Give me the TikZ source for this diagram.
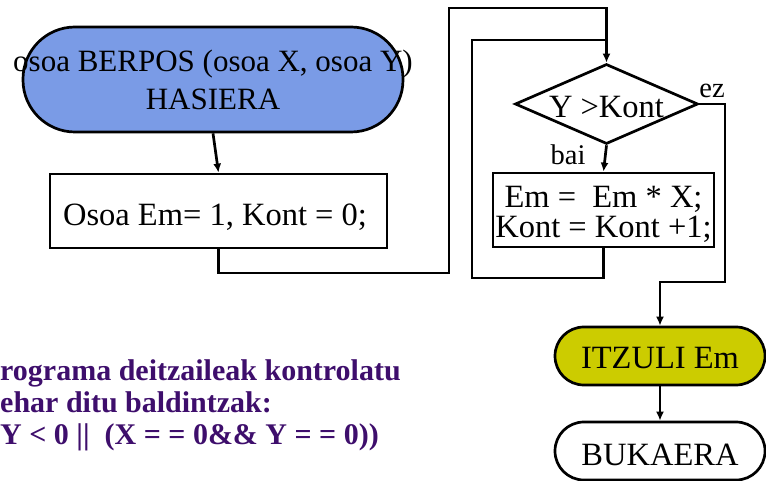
\documentclass[tikz,border=0pt]{standalone}
\usepackage{fontspec}
\setmainfont{Liberation Serif}
\usetikzlibrary{arrows.meta,shapes.geometric}
\definecolor{startblue}{RGB}{122,155,230}
\definecolor{retyellow}{RGB}{204,204,0}
\definecolor{notepurple}{RGB}{62,14,108}
\begin{document}
\begin{tikzpicture}[x=1pt,y=-1pt,
  every node/.style={inner sep=0pt, font=\fontsize{32.5}{30}\selectfont},
  line/.style={line width=2.7pt, line join=miter},
  flow/.style={line, -{Latex[length=9pt,width=8pt]}},
  terminal/.style={draw, line width=2.7pt, rectangle, rounded corners=#1},
  procbox/.style={draw, line width=2.7pt, rectangle},
  decision/.style={draw, line width=2.7pt, diamond},
  lbl/.style={font=\fontsize{28.5}{28}\selectfont}]
\useasboundingbox (0,0) rectangle (766,481);

% start terminal
\node[terminal=52pt, fill=startblue, minimum width=380pt, minimum height=105pt,
      align=center, font=\fontsize{31}{38}\selectfont] (start) at (213,79.5)
  {\makebox[0pt][c]{osoa BERPOS (osoa X, osoa Y)}\\HASIERA};

% initialisation
\node[procbox, minimum width=337pt, minimum height=74pt] (init) at (218.5,211) {};
\node (inittxt) at (215,217) {Osoa Em= 1, Kont = 0;};

% loop test
\node[decision, minimum width=183pt, minimum height=80pt] (dec) at (606.5,104) {};
\node (dectxt) at (606.5,107) {Y >Kont};

% loop body
\node[procbox, minimum width=221pt, minimum height=74pt] (body) at (603.5,210) {};
\node[align=center] (bodytxt) at (603.5,214) {Em =\ \ Em * X;\\Kont = Kont +1;};

% return and end
\node[terminal=28.9pt, fill=retyellow, minimum width=210pt, minimum height=58pt] (ret) at (660,356) {};
\node (rettxt) at (660,358) {ITZULI Em};
\node[terminal=28.9pt, fill=white, minimum width=210pt, minimum height=58pt] (stop) at (660,451) {};
\node (stoptxt) at (660,455) {BUKAERA};

% branch labels
\node[lbl] (ez) at (712,91) {ez};
\node[lbl] (bai) at (568,155) {bai};

% routing points
\coordinate (o1) at (449,273);
\coordinate (o2) at (449,8);
\coordinate (l1) at (472,278);
\coordinate (j) at (606.5,40);
\coordinate (r1) at (725,282);

% connectors
\draw[flow] (start.south) -- (init.north);
\draw[flow] (init.south) |- (o1) -- (o2) -| (dec.north);
\draw[line] (body.south) |- (l1) |- (j);
\draw[flow] (dec.south) -- (body.north);
\draw[flow] (dec.east) -| (r1) -| (ret.north);
\draw[flow] (ret.south) -- (stop.north);

% note on the caller's checks
\node[anchor=west, align=left, text=notepurple,
      font=\fontsize{30}{32}\selectfont\bfseries] (note) at (0,405)
  {rograma deitzaileak kontrolatu\\ehar ditu baldintzak:\\Y < 0 ||\ \ (X = = 0\&\& Y = = 0))};
\end{tikzpicture}
\end{document}
